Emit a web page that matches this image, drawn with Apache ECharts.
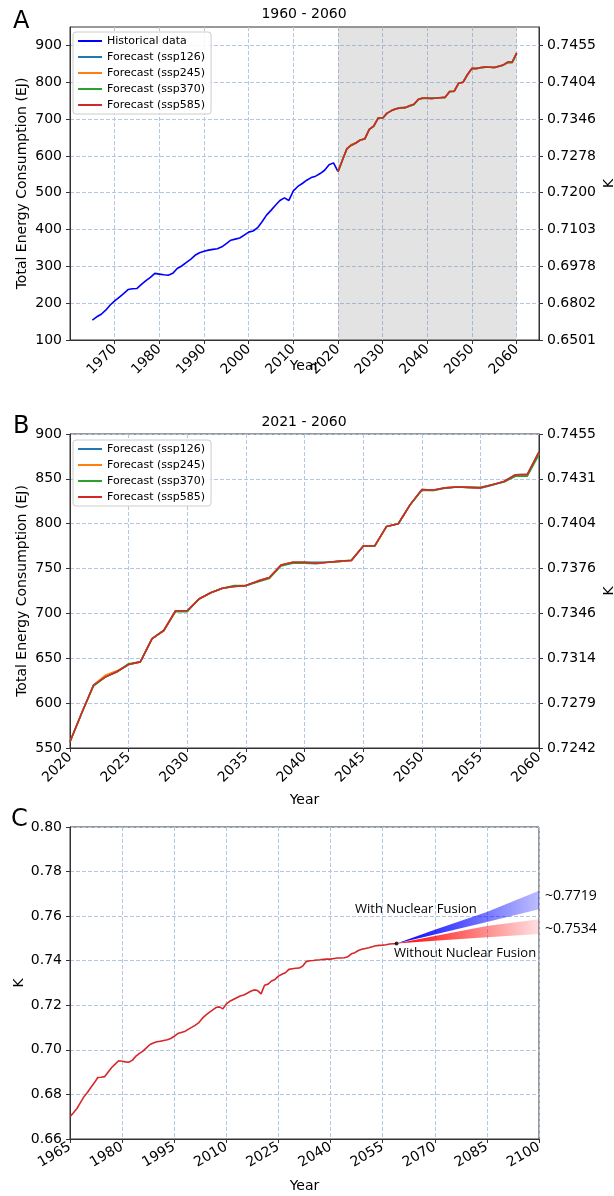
<!DOCTYPE html>
<html>
<head>
<meta charset="utf-8">
<script src="https://cdn.jsdelivr.net/npm/echarts@6/dist/echarts.min.js"></script>
<style>
html,body{margin:0;padding:0;background:#fff;}
#chart{width:614px;height:1196px;}
</style>
</head>
<body>
<div id="chart"></div>
<script>
// historical total energy consumption (EJ), 1965 - 2020
var histStart = 1965;
var histEnergy = [154,163,170,181,195,206,216,226,237,239,
  240,251,261,270,281,279,277,276,281,294,
  301,310,319,330,337,341,344,346,348,353,
  362,371,374,377,385,393,396,405,421,439,
  452,466,479,486,479,505,517,525,534,541,
  545,552,561,576,581,557];

// forecasts 2020 - 2060 (EJ)
var fcStart = 2020;
var ssp126 = [557,589,620,629,635,643,646,672,681,703,703,716,723,728,730,731,736,740,754,757,
  757,757,757,758,759,775,775.5,797,800,821,838,837.5,840,841,840.5,839.5,843,847,854.6,855,880];
var ssp245 = [557,589,620,631,636,643,646,672,681,703,703,716,723,728,730,731,736,740,754,757,
  757,756,757,758,759,775,775.5,797,800,821,837.5,837,840,841,840.5,840,843.5,846.5,853.5,853.5,878];
var ssp370 = [557,589,619,629,635,644,646,672,681,702,702,716,723,728,731,731,735,739,753,756,
  756,755.5,757,758,759.5,775,775,797,800,821,837,837,839.5,841,840.5,840.5,843.5,846.5,853,853,877];
var ssp585 = [557,589,620,629,635,643,646,672,681,703,703,716,723,728,730,731,736,740,754,757,
  757,756,757,758.4,759,775,775.5,797,800,821,838,837.5,840,841,840.5,840,843.5,847,854.6,855,880];

// right axis (K) tick labels
var eTicksA = [100,200,300,400,500,600,700,800,900];
var kLabelsA = ['0.6501','0.6802','0.6978','0.7103','0.7200','0.7278','0.7346','0.7404','0.7455'];
var eTicksB = [550,600,650,700,750,800,850,900];
var kLabelsB = ['0.7242','0.7279','0.7314','0.7346','0.7376','0.7404','0.7431','0.7455'];

// panel C: K, 1965 - 2059
var kStart = 1965;
var kValues = [0.6700,0.6718,0.6737,0.6763,0.6789,0.6809,0.6831,0.6852,0.6876,0.6877,
  0.6880,0.6901,0.6921,0.6936,0.6951,0.6949,0.6946,0.6945,0.6954,0.6972,
  0.6984,0.6994,0.7009,0.7024,0.7031,0.7036,0.7039,0.7042,0.7045,0.7051,
  0.7061,0.7073,0.7078,0.7082,0.7092,0.7101,0.7110,0.7121,0.7140,0.7155,
  0.7167,0.7178,0.7190,0.7193,0.7184,0.7206,0.7218,0.7226,0.7234,0.7242,
  0.7246,0.7254,0.7263,0.7269,0.7266,0.7251,0.7290,0.7295,0.7309,0.7316,
  0.7331,0.7339,0.7346,0.7361,0.7364,0.7366,0.7367,0.7376,0.7396,0.7400,
  0.7401,0.7403,0.7404,0.7406,0.7407,0.7407,0.7410,0.7412,0.7412,0.7413,
  0.7418,0.7431,0.7436,0.7446,0.7451,0.7455,0.7458,0.7463,0.7467,0.7469,
  0.7470,0.7472,0.7475,0.7476,0.7476];

// fan after 2059
var fanYears = [2059,2070,2085,2100];
var fusionLow = [0.7477,0.7518,0.7574,0.7631];
var fusionHigh = [0.7477,0.7539,0.7619,0.7714];
var noFusionLow = [0.7477,0.7490,0.7505,0.7520];
var noFusionHigh = [0.7477,0.7511,0.7556,0.7586];

var FONT = 'DejaVu Sans';
var GRID_LINE = {show: true, lineStyle: {color: '#b3c7e3', type: [4, 2], width: 1}};
var AX_LINE = {show: true, lineStyle: {color: '#333', width: 1}};
var AX_TICK = {show: true, length: 4, lineStyle: {color: '#333'}};

function pairs(start, arr) {
  return arr.map(function (v, i) { return [start + i, v]; });
}
function line(name, data, color, xi, yi, extra) {
  var s = {
    name: name, type: 'line', data: data, xAxisIndex: xi, yAxisIndex: yi,
    symbol: 'none', lineStyle: {color: color, width: 1.6}, itemStyle: {color: color},
    animation: false, silent: true
  };
  for (var k in extra) s[k] = extra[k];
  return s;
}
function lbl(extra) {
  var o = {color: '#000', fontSize: 14, fontFamily: FONT, margin: 8};
  for (var k in extra) o[k] = extra[k];
  return o;
}
function axName(extra) {
  var o = {nameLocation: 'middle', nameMoveOverlap: false,
    nameTextStyle: {fontSize: 14, fontFamily: FONT, color: '#000'},
    axisLine: AX_LINE, axisTick: AX_TICK};
  for (var k in extra) o[k] = extra[k];
  return o;
}

// fan band drawn as one polygon through the axis scales
function fan(lo, hi, rgb, endAlpha) {
  return {
    type: 'custom', xAxisIndex: 2, yAxisIndex: 4, silent: true, animation: false, z: 3,
    data: fanYears.map(function (x, i) { return [x, lo[i], hi[i]]; }),
    encode: {x: 0, y: [1, 2]},
    renderItem: function (params, api) {
      if (params.dataIndex !== 0) return;
      var top = fanYears.map(function (x, i) { return api.coord([x, hi[i]]); });
      var bot = fanYears.map(function (x, i) { return api.coord([x, lo[i]]); }).reverse();
      var x0 = top[0][0], x1 = top[top.length - 1][0];
      return {
        type: 'polygon', shape: {points: top.concat(bot)},
        style: {fill: new echarts.graphic.LinearGradient(x0, 0, x1, 0, [
          {offset: 0, color: 'rgba(' + rgb + ',1)'},
          {offset: 1, color: 'rgba(' + rgb + ',' + endAlpha + ')'}], true)}
      };
    }
  };
}

var fcNames = ['Forecast (ssp126)', 'Forecast (ssp245)', 'Forecast (ssp370)', 'Forecast (ssp585)'];
var fcColors = ['#1f77b4', '#ff7f0e', '#2ca02c', '#d62728'];
var fcData = [ssp126, ssp245, ssp370, ssp585];

var series = [];
series.push(line('Historical data', pairs(histStart, histEnergy), '#0000ff', 0, 0, {
  markArea: {silent: true, itemStyle: {color: 'rgba(128,128,128,0.22)'}, data: [[{xAxis: 2020}, {xAxis: 2060}]]}
}));
fcData.forEach(function (d, i) {
  series.push(line(fcNames[i], pairs(fcStart, d), fcColors[i], 0, 0));
});
fcData.forEach(function (d, i) {
  series.push(line(fcNames[i], pairs(fcStart, d), fcColors[i], 1, 2));
});
series.push(line('K', pairs(kStart, kValues), '#d62728', 2, 4));
series.push(fan(fusionLow, fusionHigh, '0,0,255', 0.26));
series.push(fan(noFusionLow, noFusionHigh, '255,0,0', 0.12));
series.push({
  type: 'scatter', xAxisIndex: 2, yAxisIndex: 4, data: [[fanYears[0], fusionLow[0]]],
  symbolSize: 4, itemStyle: {color: '#000'}, silent: true, animation: false, z: 5
});

function legend(names, top) {
  return {
    data: names.map(function (n) { return {name: n, icon: 'rect'}; }),
    orient: 'vertical', left: 73, top: top, itemWidth: 24, itemHeight: 2, itemGap: 4,
    padding: [3, 6, 3, 5], backgroundColor: 'rgba(255,255,255,0.85)', borderColor: '#cccccc',
    borderWidth: 1, borderRadius: 3, selectedMode: false,
    textStyle: {fontSize: 11, fontFamily: FONT, color: '#000', lineHeight: 12}
  };
}

function txt(t, x, y, size, align, family) {
  return {type: 'text', x: x, y: y, silent: true, style: {
    text: t, fontSize: size, fontFamily: family || FONT, fill: '#000',
    align: align || 'left', verticalAlign: 'middle'}};
}

function grid(top, height) {
  return {left: 70, right: 75, top: top, height: height, show: true, borderColor: '#333',
    borderWidth: 1, outerBoundsMode: 'none', containLabel: false};
}

var option = {
  backgroundColor: '#fff',
  animation: false,
  grid: [grid(27, 313), grid(434, 314), grid(827, 312)],
  legend: [
    legend(['Historical data'].concat(fcNames), 32),
    legend(fcNames, 440)
  ],
  xAxis: [
    axName({type: 'value', gridIndex: 0, min: 1960, max: 2065, interval: 10,
      name: 'Year', nameGap: 19, splitLine: GRID_LINE,
      axisTick: {show: true, length: 4, lineStyle: {color: '#333'}, customValues: [1970,1980,1990,2000,2010,2020,2030,2040,2050,2060]},
      axisLabel: lbl({rotate: 45, margin: 7, showMinLabel: false, showMaxLabel: false, formatter: function (v) { return String(v); }})}),
    axName({type: 'value', gridIndex: 1, min: 2020, max: 2060, interval: 5,
      name: 'Year', nameGap: 45, splitLine: GRID_LINE,
      axisLabel: lbl({rotate: 45, margin: 7, formatter: function (v) { return String(v); }})}),
    axName({type: 'value', gridIndex: 2, min: 1965, max: 2100, interval: 15,
      name: 'Year', nameGap: 40, splitLine: GRID_LINE,
      axisLabel: lbl({rotate: 30, margin: 7, formatter: function (v) { return String(v); }})})
  ],
  yAxis: [
    axName({type: 'value', gridIndex: 0, min: 100, max: 950, interval: 100,
      name: 'Total Energy Consumption (EJ)', nameGap: 41, nameRotate: 90, splitLine: GRID_LINE,
      axisTick: {show: true, length: 4, lineStyle: {color: '#333'}, customValues: eTicksA},
      axisLabel: lbl({formatter: function (v) { return eTicksA.indexOf(v) >= 0 ? String(v) : ''; }})}),
    axName({type: 'value', gridIndex: 0, position: 'right', min: 100, max: 950, interval: 100,
      name: 'K', nameGap: 63, nameRotate: 90, splitLine: {show: false},
      axisTick: {show: true, length: 4, lineStyle: {color: '#333'}, customValues: eTicksA},
      axisLabel: lbl({formatter: function (v) { var i = eTicksA.indexOf(v); return i >= 0 ? kLabelsA[i] : ''; }})}),
    axName({type: 'value', gridIndex: 1, min: 550, max: 900, interval: 50,
      name: 'Total Energy Consumption (EJ)', nameGap: 41, nameRotate: 90, splitLine: GRID_LINE,
      axisLabel: lbl({})}),
    axName({type: 'value', gridIndex: 1, position: 'right', min: 550, max: 900, interval: 50,
      name: 'K', nameGap: 63, nameRotate: 90, splitLine: {show: false},
      axisLabel: lbl({formatter: function (v) { var i = eTicksB.indexOf(v); return i >= 0 ? kLabelsB[i] : ''; }})}),
    axName({type: 'value', gridIndex: 2, min: 0.66, max: 0.80, interval: 0.02,
      name: 'K', nameGap: 44, nameRotate: 90, splitLine: GRID_LINE,
      axisLabel: lbl({formatter: function (v) { return v.toFixed(2); }})})
  ],
  series: series,
  graphic: [
    txt('A', 13, 22, 24),
    txt('B', 13, 427, 24),
    txt('C', 11, 820, 24),
    txt('1960 - 2060', 304, 14, 14, 'center'),
    txt('2021 - 2060', 304, 422, 14, 'center'),
    txt('With Nuclear Fusion', 355, 909, 13, 'left', 'Open Sans'),
    txt('Without Nuclear Fusion', 394, 953, 13, 'left', 'Open Sans'),
    txt('~0.7719', 545, 896, 14, 'left', 'Open Sans'),
    txt('~0.7534', 545, 929, 14, 'left', 'Open Sans')
  ]
};

var chart = echarts.init(document.getElementById('chart'), null, {renderer: 'canvas'});
chart.setOption(option);
</script>
</body>
</html>
